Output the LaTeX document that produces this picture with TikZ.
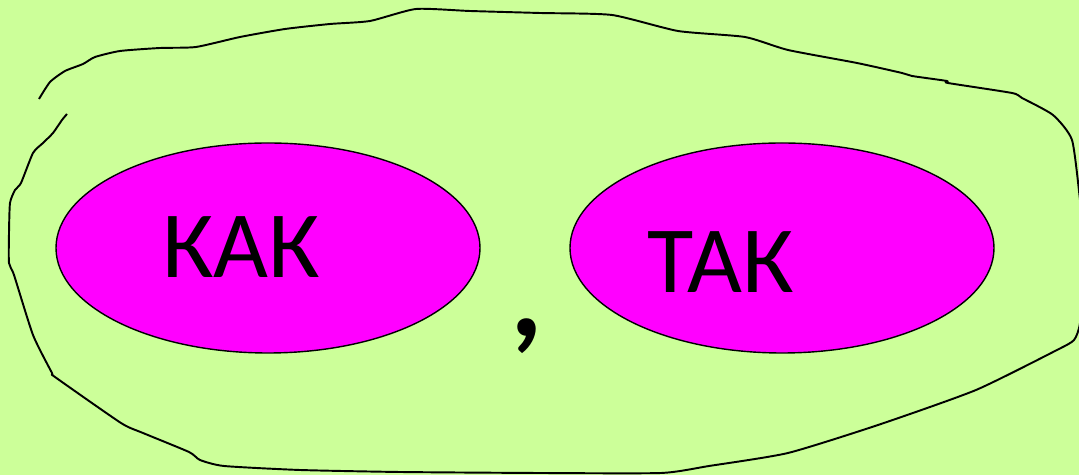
\documentclass[tikz,border=0pt]{standalone}
\usepackage{fontspec}
\setmainfont{Carlito}
\usepackage{xcolor}
\usepackage{tikz}

\definecolor{lightgreen}{HTML}{CCFF99}
\definecolor{pinkfill}{HTML}{FF00FF}

\begin{document}
\begin{tikzpicture}[x=0.02cm, y=-0.02cm]
        \useasboundingbox (0,0) rectangle (1079,475);
        \fill[lightgreen] (0,0) rectangle (1079,475);

        % hand drawn outline
        \draw[line width=1.1pt, line join=round] plot[smooth, tension=0.35] coordinates {
            (39,99) (50,82) (65,71) (83,64) (95,57) (120,51) (160,48) (196,47)
            (240,37) (285,29) (330,24) (370,21) (416,9) (470,11) (540,13)
            (612,15) (678,31) (745,37) (788,50) (857,63) (902,73) (912,76)
            (947,81) (948,83) (1012,93) (1022,98) (1053,115) (1072,140)
            (1080,200) (1086,260) (1080,323) (1074,340) (1057,350) (976,390)
            (878,425) (788,453) (709,466) (661,473) (540,473) (400,472)
            (300,470) (224,466) (200,460) (189,452) (143,433) (121,423)
            (55,377) (52,373) (33,335) (14,275) (9,263) (9,233) (10,203)
            (15,190) (21,183) (33,153) (43,143) (53,133) (62,120) (67,114)};

        \draw[fill=pinkfill, line width=0.8pt] (268,248) ellipse (212 and 105);
        \draw[fill=pinkfill, line width=0.8pt] (782,248) ellipse (212 and 105);

        \node[anchor=base, inner sep=0pt, font=\fontsize{54}{64}\selectfont] (kak) at (241,278) {КАК};
        \node[anchor=base, inner sep=0pt, font=\fontsize{54}{64}\selectfont] (tak) at (721,293) {ТАК};
        \node[inner sep=0pt, font=\fontsize{72}{86}\selectfont\bfseries] (comma) at (527,336) {,};
\end{tikzpicture}
\end{document}
